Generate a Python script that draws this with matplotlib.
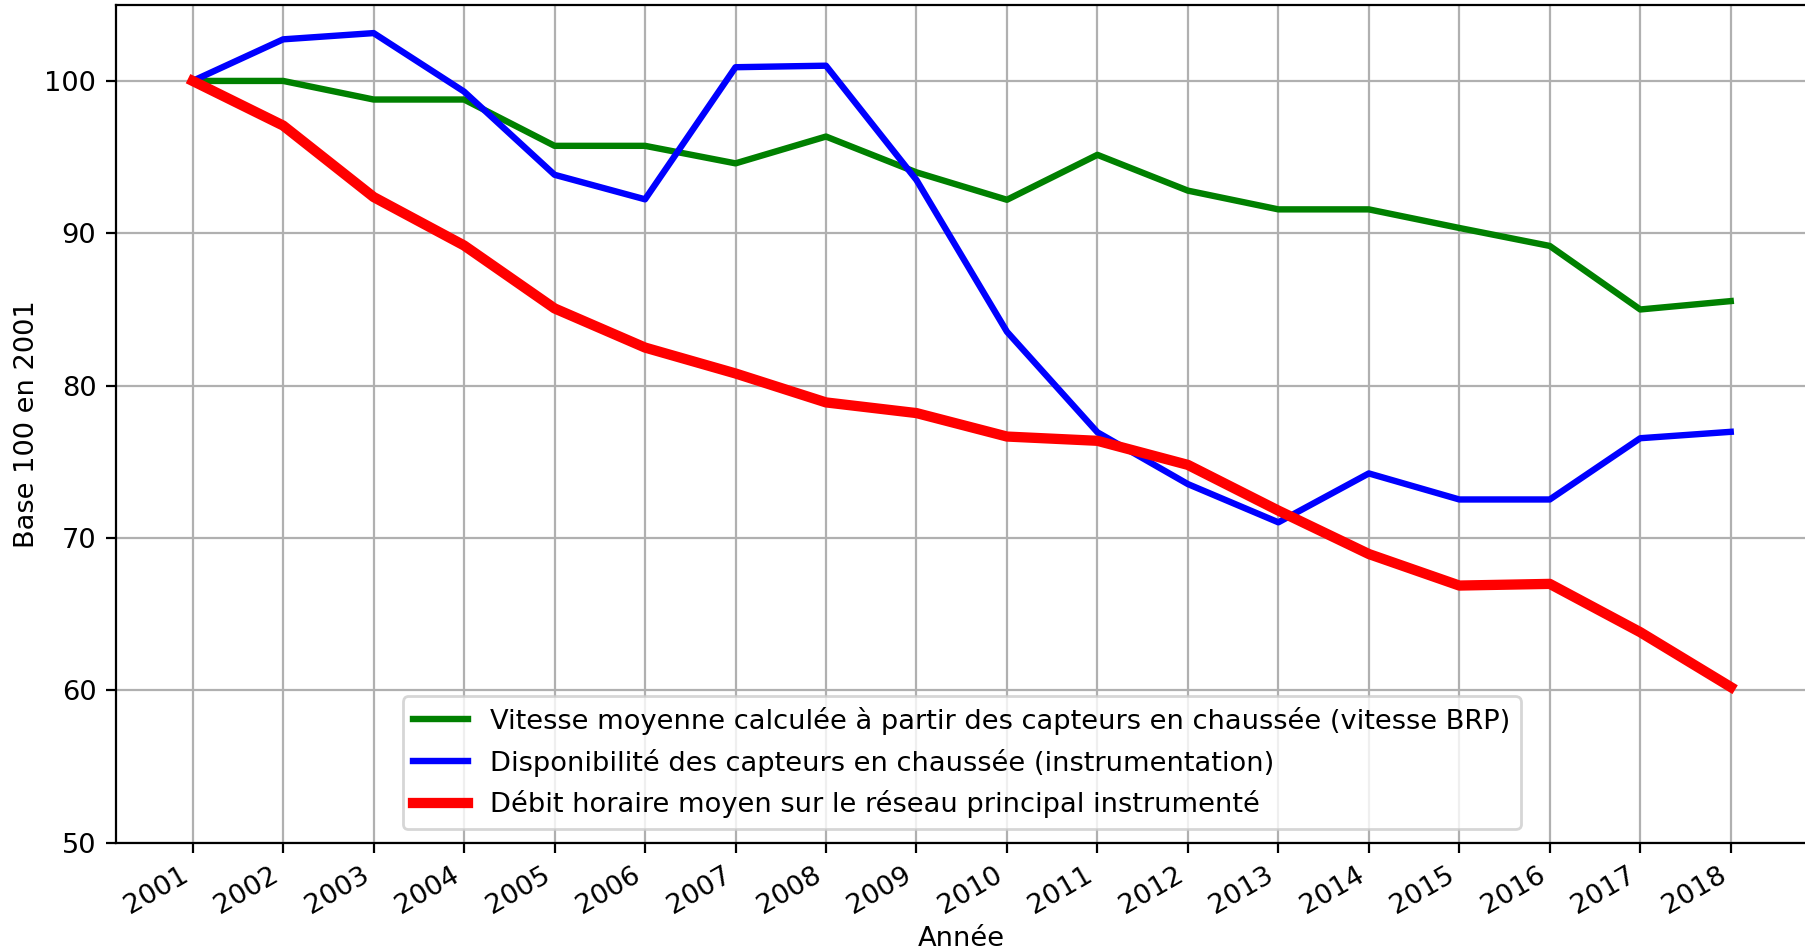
import matplotlib
matplotlib.use("Agg")
import matplotlib.pyplot as plt

years = list(range(2001, 2019))
vitesse = [100, 100, 98.78, 98.78, 95.74, 95.74, 94.59, 96.35, 94.0, 92.2,
           95.15, 92.8, 91.57, 91.57, 90.35, 89.17, 85.0, 85.55]
dispo = [100, 102.73, 103.14, 99.3, 93.84, 92.23, 100.9, 101.0, 93.5, 83.54,
         76.94, 73.54, 71.03, 74.24, 72.53, 72.53, 76.55, 76.97]
debit = [100, 97.07, 92.38, 89.2, 85.07, 82.5, 80.8, 78.9, 78.2, 76.66,
         76.38, 74.8, 71.8, 68.95, 66.88, 66.99, 63.82, 60.22]

labels = [
    "Vitesse moyenne calculée à partir des capteurs en chaussée (vitesse BRP)",
    "Disponibilité des capteurs en chaussée (instrumentation)",
    "Débit horaire moyen sur le réseau principal instrumenté",
]

plt.rcParams["font.size"] = 9.8

fig = plt.figure(figsize=(9.03, 4.75), dpi=200)
ax = fig.add_axes([0.0641, 0.1129, 0.9368, 0.8821])

ax.plot(years, vitesse, color="green", lw=2.3, label=labels[0])
ax.plot(years, dispo, color="blue", lw=2.3, label=labels[1])
ax.plot(years, debit, color="red", lw=3.7, label=labels[2])

ax.set_ylim(50, 105)
ax.set_yticks([50, 60, 70, 80, 90, 100])
ax.set_xticks(years)
ax.set_xticklabels([str(y) for y in years], rotation=30, ha="right")
ax.grid(True)
ax.set_xlabel("Année", labelpad=2.5)
ax.set_ylabel("Base 100 en 2001", labelpad=1.5)
ax.legend(loc="lower center")

fig.savefig("out.png", dpi=200)
